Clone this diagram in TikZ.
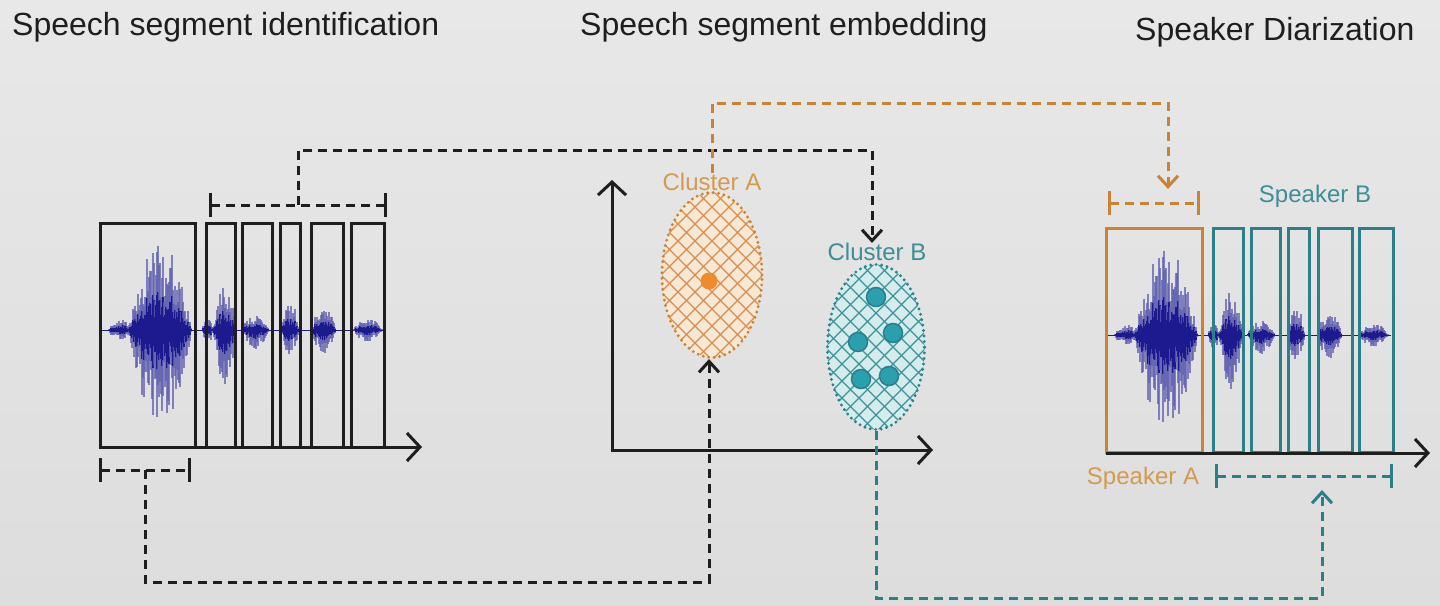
\documentclass[tikz,border=0pt]{standalone}
\usepackage{fontspec}
\setmainfont{Liberation Sans}
\usepackage{tikz}
\usetikzlibrary{arrows.meta, shapes.geometric}

\definecolor{inkc}{HTML}{1E1E1E}
\definecolor{wavec}{HTML}{1C1A8E}
\definecolor{orln}{HTML}{C98335}
\definecolor{orlab}{HTML}{D49A4E}
\definecolor{orhatch}{HTML}{DB8C4C}
\definecolor{orfill}{HTML}{F5E8D4}
\definecolor{ordot}{HTML}{EE8B2A}
\definecolor{tlln}{HTML}{2B7F89}
\definecolor{tllab}{HTML}{3D8E95}
\definecolor{tlhatch}{HTML}{3A929B}
\definecolor{tlfill}{HTML}{D6EBEC}
\definecolor{tldot}{HTML}{2AA0AF}
\definecolor{bgtop}{HTML}{E8E8E8}
\definecolor{bgmid}{HTML}{CFCFCF}
\definecolor{bgbot}{HTML}{DDDDDD}

% one speech signal, baseline at (0,0)
\newcommand{\speechwave}{%
  \pgfmathsetseed{7}%
  \draw[wavec, line width=1pt] (0,0) -- (285,0);
  \foreach \c/\w/\u/\d in {20/12/11/11, 45/8/25/25, 60/32/92/97, 108/6/12/14,
                          125/12/45/57, 155/14/15/20, 190/9/32/26, 224/12/30/32, 268/15/12/12}{
    \pgfmathtruncatemacro{\lo}{-\w}
    \foreach \i in {\lo,...,\w}{
      \pgfmathsetmacro{\env}{1-(\i/\w)^2}
      \pgfmathsetmacro{\up}{\u*\env*(0.3+0.7*rnd)}
      \pgfmathsetmacro{\dn}{\d*\env*(0.3+0.7*rnd)}
      \draw[wavec!70, line width=1.2pt, opacity=.75] (\c+\i,-\up) -- (\c+\i,\dn);
      \draw[wavec, line width=1.2pt] (\c+\i,-0.45*\up) -- (\c+\i,0.45*\dn);
    }
  }%
}

\begin{document}
\begin{tikzpicture}[x=1pt, y=-1pt,
  seg/.style={draw=inkc, line width=3pt},
  axis/.style={draw=inkc, line width=3pt, -{Straight Barb[length=13pt,width=28pt,line width=3pt]}},
  conn/.style={draw=inkc, dash pattern=on 9pt off 6pt, line width=3pt, -{Straight Barb[length=11pt,width=20pt,line width=3pt]}},
  bracket/.style={draw=inkc, dash pattern=on 9pt off 6pt, line width=3pt, {Bar[width=24pt,line width=3pt]}-{Bar[width=24pt,line width=3pt]}},
  title/.style={font=\fontsize{32}{36}\selectfont, text=inkc, anchor=west, inner sep=0pt},
  tag/.style={font=\fontsize{24}{28}\selectfont, inner sep=0pt},
  cluster/.style={ellipse, inner sep=0pt, line width=3.2pt, dash pattern=on 0pt off 5.5pt, line cap=round},
  hatch/.style={path picture={
    \foreach \t in {-170,-153,...,170}{
      \draw[#1, solid, line cap=butt, line width=1.2pt] ([shift={(\t-100,-100)}]path picture bounding box.center) -- ++(200,200);
      \draw[#1, solid, line cap=butt, line width=1.2pt] ([shift={(\t-100,100)}]path picture bounding box.center) -- ++(200,-200);
    }}},
  dot/.style={circle, inner sep=0pt, minimum size=19pt, line width=1.5pt}
]

% background
\useasboundingbox (0,0) rectangle (1440,605);
\shade[top color=bgtop, middle color=bgmid, bottom color=bgbot] (0,0) rectangle (1440,605);

% titles
\node[title] (t1) at (12,27) {Speech segment identification};
\node[title] (t2) at (580,27) {Speech segment embedding};
\node[title] (t3) at (1135,32) {Speaker Diarization};

% left: speech segments
\begin{scope}[shift={(100,330)}]
\speechwave
\end{scope}
\foreach \a/\b in {100/195, 206/235, 242/272, 280/300, 311/343, 351/384}
  \draw[seg] (\a,223) rectangle (\b,447);
\draw[axis] (100,447) -- (422,447);
\draw[bracket] (209,205) -- coordinate[midway] (segUp) (387,205);
\draw[bracket] (99,470) -- coordinate[midway] (segDn) (191,470);

% middle: embedding space
\draw[axis] (612,451.5) -- (612,180);
\draw[axis] (610.5,450) -- (933,450);
\node[cluster, draw=orln, fill=orfill, hatch=orhatch, minimum width=100pt, minimum height=165pt] (clA) at (712,275) {};
\node[cluster, draw=tlln, fill=tlfill, hatch=tlhatch, minimum width=97pt, minimum height=165pt] (clB) at (876,347) {};
\node[dot, fill=ordot, minimum size=17pt] (dA) at (709,281) {};
\foreach \p/\q [count=\k] in {876/297, 893/333, 858/342, 889/376, 861/379}
  \node[dot, fill=tldot, draw=tlln] (dB\k) at (\p,\q) {};
\node[tag, text=orlab] (clAlab) at (712,182) {Cluster A};
\node[tag, text=tllab] (clBlab) at (877,252) {Cluster B};

% right: diarization
\begin{scope}[shift={(1106,335)}]
\speechwave
\end{scope}
\draw[seg, draw=orln] (1106,228) rectangle (1202,452);
\foreach \a/\b in {1213/1243, 1251/1280, 1288/1309, 1318/1352, 1359/1393}
  \draw[seg, draw=tlln] (\a,228) rectangle (\b,452);
\draw[axis] (1106,453) -- (1430,453);
\draw[bracket, draw=orln] (1108,203) -- (1200,203);
\draw[bracket, draw=tlln] (1215,476) -- (1393,476);
\node[tag, text=tllab] (spkB) at (1315,196) {Speaker B};
\node[tag, text=orlab] (spkA) at (1143,478) {Speaker A};

% connectors
\coordinate (bkTop) at (872,150);
\coordinate (bkBot) at (709,582);
\coordinate (orTop) at (1168,103);
\coordinate (spkAin) at (1168,189);
\coordinate (tlBot) at (1322,598);
\coordinate (spkBin) at (1322,490);
\draw[conn] (segUp) |- (bkTop) -- (bkTop |- clBlab.north);
\draw[conn] (segDn) |- (bkBot) -- (bkBot |- clA.south);
\draw[conn, draw=orln] (clAlab.north) |- (orTop) -- (spkAin);
\draw[conn, draw=tlln] (clB.south) |- (tlBot) -- (spkBin);

\end{tikzpicture}
\end{document}
